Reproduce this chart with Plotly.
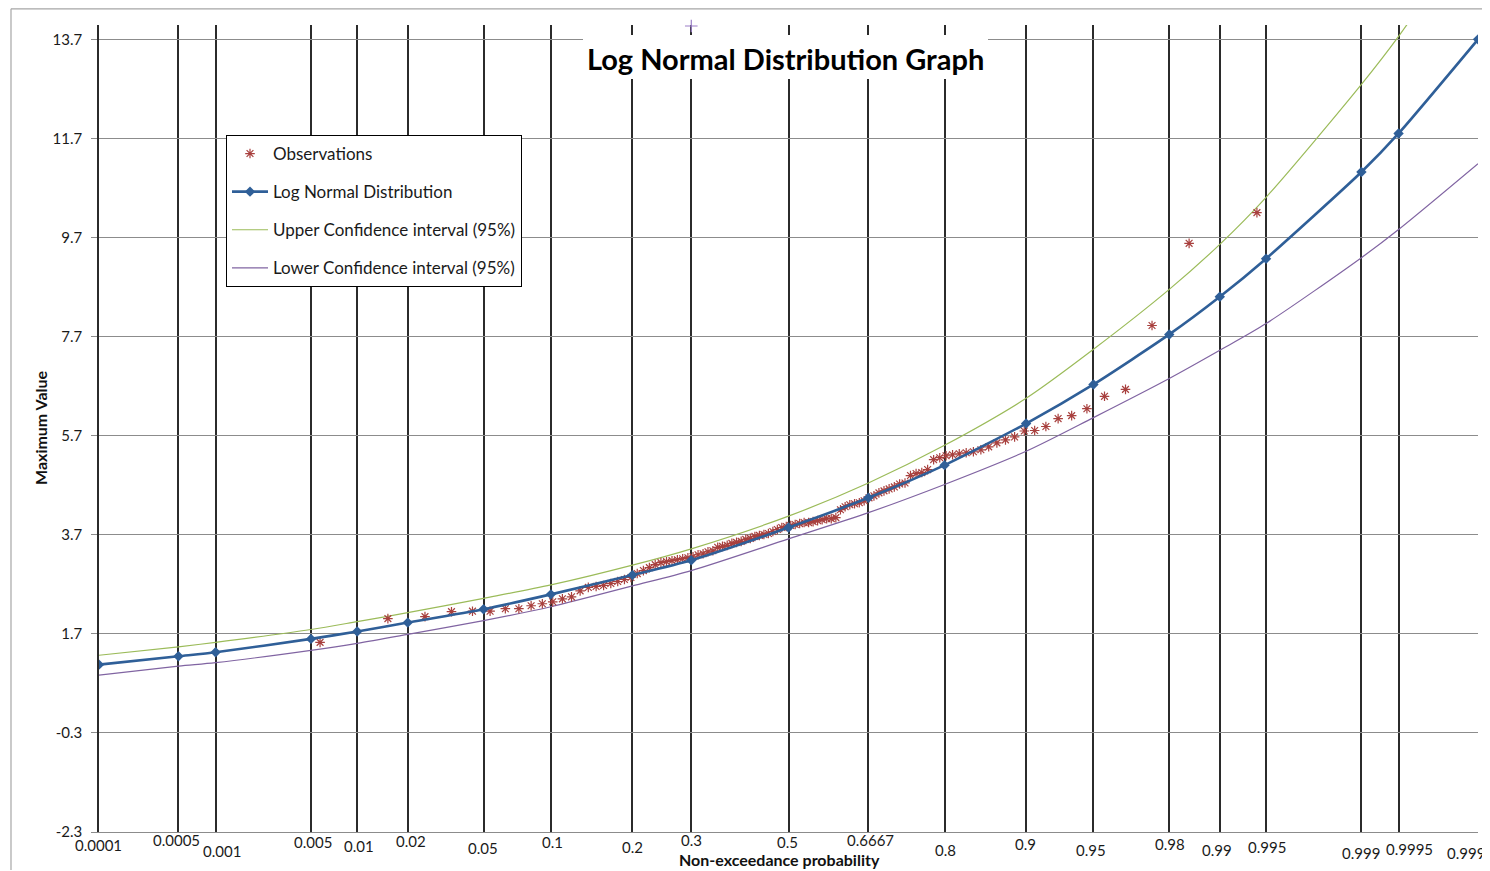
from statistics import NormalDist
import plotly.graph_objects as go

nd = NormalDist()

# ---------------- data ----------------
prob_ticks = [0.0001, 0.0005, 0.001, 0.005, 0.01, 0.02, 0.05, 0.1, 0.2, 0.3, 0.5,
              0.6667, 0.8, 0.9, 0.95, 0.98, 0.99, 0.995, 0.999, 0.9995, 0.9999]
tick_labels = ["0.0001", "0.0005", "0.001", "0.005", "0.01", "0.02", "0.05", "0.1", "0.2",
               "0.3", "0.5", "0.6667", "0.8", "0.9", "0.95", "0.98", "0.99", "0.995",
               "0.999", "0.9995", "0.9999"]

lognormal_fit = [1.08, 1.25, 1.33, 1.60, 1.75, 1.93, 2.20, 2.50, 2.89, 3.19, 3.85,
                 4.45, 5.11, 5.95, 6.74, 7.75, 8.51, 9.28, 11.03, 11.81, 13.71]
upper_ci = [1.27, 1.44, 1.53, 1.79, 1.95, 2.13, 2.42, 2.69, 3.09, 3.42, 4.08,
            4.75, 5.51, 6.46, 7.45, 8.66, 9.57, 10.52, 12.80, 13.77, 16.10]
lower_ci = [0.87, 1.05, 1.12, 1.37, 1.51, 1.69, 1.97, 2.25, 2.67, 2.98, 3.62,
            4.15, 4.72, 5.39, 6.07, 6.86, 7.43, 7.97, 9.30, 9.87, 11.20]

observations = [1.53, 2.01, 2.05, 2.15, 2.16, 2.16, 2.21, 2.21, 2.27, 2.31,
                2.35, 2.41, 2.45, 2.57, 2.64, 2.66, 2.68, 2.72, 2.76, 2.80,
                2.84, 2.92, 2.98, 3.04, 3.10, 3.14, 3.16, 3.18, 3.20, 3.22,
                3.24, 3.26, 3.30, 3.32, 3.36, 3.38, 3.45, 3.47, 3.49, 3.53,
                3.55, 3.57, 3.61, 3.63, 3.67, 3.69, 3.71, 3.73, 3.77, 3.81,
                3.85, 3.87, 3.89, 3.91, 3.93, 3.95, 3.95, 3.97, 3.99, 4.01,
                4.03, 4.03, 4.05, 4.21, 4.27, 4.31, 4.33, 4.35, 4.39, 4.45,
                4.49, 4.55, 4.59, 4.63, 4.67, 4.73, 4.75, 4.90, 4.94, 4.96,
                5.02, 5.22, 5.26, 5.30, 5.32, 5.34, 5.36, 5.38, 5.42, 5.48,
                5.56, 5.62, 5.68, 5.80, 5.81, 5.89, 6.05, 6.11, 6.25, 6.50,
                6.64, 7.93, 9.59, 10.21]

stray_point_prob = [0.3]
stray_point_val = [13.98]

y_ticks = [-2.3, -0.3, 1.7, 3.7, 5.7, 7.7, 9.7, 11.7, 13.7]

# ---------------- scales ----------------
def probit(p):
    return nd.inv_cdf(p)

n_obs = len(observations)
# Cunnane plotting position of each ranked observation
obs_prob = [(i + 1 - 0.4) / (n_obs + 0.2) for i in range(n_obs)]

x_ticks = [probit(p) for p in prob_ticks]
x_obs = [probit(p) for p in obs_prob]

FONT = "Lato"
fig = go.Figure()

fig.add_trace(go.Scatter(
    x=x_ticks, y=upper_ci, mode="lines", name="Upper Confidence interval (95%)",
    line=dict(color="#9BBB59", width=1.2, shape="spline", smoothing=0.8),
    legendgroup="c", legendrank=3))
fig.add_trace(go.Scatter(
    x=x_ticks, y=lower_ci, mode="lines", name="Lower Confidence interval (95%)",
    line=dict(color="#8064A2", width=1.2, shape="spline", smoothing=0.8),
    legendgroup="d", legendrank=4))
fig.add_trace(go.Scatter(
    x=x_obs, y=observations, mode="markers", name="Observations",
    marker=dict(symbol="asterisk-open", size=8, color="#A8403E",
                line=dict(color="#A8403E", width=1.2)),
    legendgroup="a", legendrank=1))
fig.add_trace(go.Scatter(
    x=x_ticks, y=lognormal_fit, mode="lines+markers", name="Log Normal Distribution",
    line=dict(color="#2F5F98", width=2.6, shape="spline", smoothing=0.6),
    marker=dict(symbol="diamond", size=8, color="#2F5F98"),
    legendgroup="b", legendrank=2))
fig.add_trace(go.Scatter(
    x=[probit(p) for p in stray_point_prob], y=stray_point_val, mode="markers",
    marker=dict(symbol="cross-thin-open", size=9, color="#9B7FC8",
                line=dict(color="#9B7FC8", width=1.2)),
    showlegend=False, cliponaxis=False, hoverinfo="skip"))

# ---------------- layout ----------------
# the page shows the figure 8px in from its top-left corner; positions below are page pixels
OFF = 8
W, H = 1490 - OFF, 871 - OFF
L, R, T, B = 99 - OFF, W - (1478 - OFF), 25 - OFF, H - (832 - OFF)
pw, ph = W - L - R, H - T - B

def px_x(px):
    return (px - OFF - L) / pw

def px_y(py):
    return (H - B - (py - OFF)) / ph

fig.update_layout(
    width=W, height=H,
    margin=dict(l=L, r=R, t=T, b=B),
    paper_bgcolor="white", plot_bgcolor="white",
    font=dict(family=FONT, size=14, color="#1a1a1a"),
    showlegend=True,
    legend=dict(x=px_x(226), y=px_y(135), xanchor="left", yanchor="top",
                bgcolor="white", bordercolor="#000000", borderwidth=1,
                font=dict(family=FONT, size=17, color="#1a1a1a"),
                tracegroupgap=13, itemwidth=36),
    xaxis=dict(range=[probit(0.0001), probit(0.9999)], tickvals=x_ticks[:-1],
               showticklabels=False, showgrid=True, gridcolor="#2b2b2b", gridwidth=1.5,
               zeroline=False, showline=True, linecolor="#8c8c8c", linewidth=1.2,
               ticks=""),
    yaxis=dict(range=[-2.3, 14.0], tickvals=y_ticks, ticktext=[f"{v:.1f}" for v in y_ticks],
               showgrid=True, gridcolor="#8c8c8c", gridwidth=1.1, zeroline=False,
               showline=True, linecolor="#2b2b2b", linewidth=1.5,
               ticks="outside", ticklen=6, tickcolor="#8c8c8c", ticklabelstandoff=6,
               tickfont=dict(family=FONT, size=15, color="#1a1a1a")),
)

# x tick labels (staggered as in the original)
label_dx = [-1, -2, 6, 2, 2, 3, -1, 2, 0, 0, -1, 2, 1, -1, -2, 1, -3, 1, 0, 11, -8]
label_dy = [-13, -8, -19, -10, -14, -9, -16, -10, -15, -8, -10, -8, -18, -12, -18,
            -12, -18, -15, -21, -17, -21]
annotations = []
for xv, txt, dx, dy in zip(x_ticks, tick_labels, label_dx, label_dy):
    annotations.append(dict(x=xv, y=0, xref="x", yref="paper", text=txt, showarrow=False,
                            xanchor="center", yanchor="middle", xshift=dx, yshift=dy,
                            font=dict(family=FONT, size=15, color="#1a1a1a")))

annotations.append(dict(x=px_x(779), y=px_y(859), xref="paper", yref="paper",
                        text="<b>Non-exceedance probability</b>", showarrow=False,
                        xanchor="center", yanchor="middle",
                        font=dict(family=FONT, size=16, color="#111")))
annotations.append(dict(x=px_x(40), y=px_y(428), xref="paper", yref="paper",
                        text="<b>Maximum Value</b>", showarrow=False, textangle=-90,
                        xanchor="center", yanchor="middle",
                        font=dict(family=FONT, size=16, color="#111")))
annotations.append(dict(x=px_x(785), y=px_y(58), xref="paper", yref="paper",
                        text="<b>Log Normal Distribution Graph</b>", showarrow=False,
                        xanchor="center", yanchor="middle",
                        font=dict(family=FONT, size=29, color="#000")))
fig.update_layout(annotations=annotations)

shapes = [
    # title background box
    dict(type="rect", xref="paper", yref="paper", x0=px_x(583), x1=px_x(988),
         y0=px_y(79), y1=px_y(35), fillcolor="white", line=dict(width=0), layer="above"),
    # chart-area frame (top and left edges)
    dict(type="line", xref="paper", yref="paper", x0=px_x(11), x1=px_x(1492),
         y0=px_y(8.8), y1=px_y(8.8), line=dict(color="#a6a6a6", width=1.2)),
    dict(type="line", xref="paper", yref="paper", x0=px_x(11), x1=px_x(11),
         y0=px_y(8.8), y1=px_y(870), line=dict(color="#a6a6a6", width=1.2)),
]
fig.update_layout(shapes=shapes)

fig.write_html("out.html")
